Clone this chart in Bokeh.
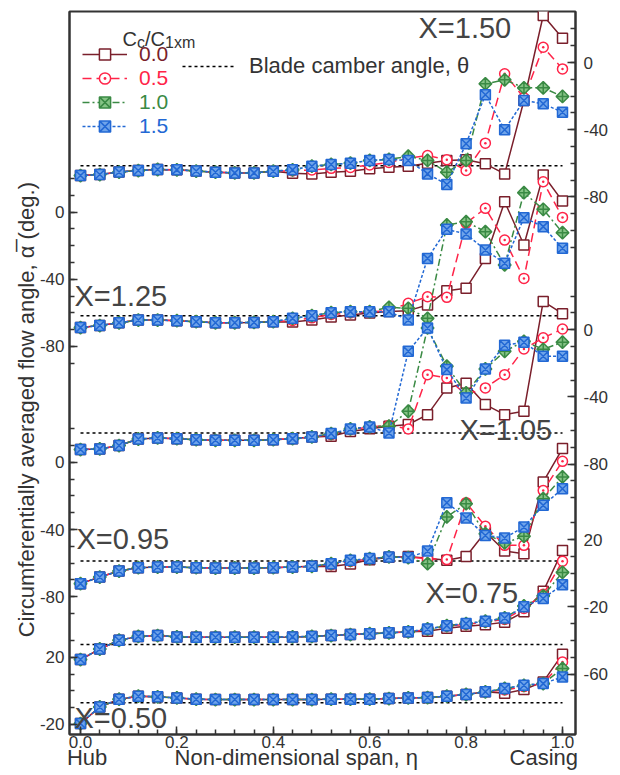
import math
from bokeh.plotting import figure
from bokeh.models import (ColumnDataSource, Range1d, LinearAxis, FixedTicker,
                          Label, Legend, LegendItem, PrintfTickFormatter)
from bokeh.transform import dodge
from bokeh.embed import file_html
from bokeh.resources import INLINE

# ---------------- data ----------------
eta = [0.00, 0.04, 0.08, 0.12, 0.16, 0.20, 0.24, 0.28, 0.32, 0.36, 0.40, 0.44, 0.48,
       0.52, 0.56, 0.60, 0.64, 0.68, 0.72, 0.76, 0.80, 0.84, 0.88, 0.92, 0.96, 1.00]
ratio_labels = ["0.0", "0.5", "1.0", "1.5"]
station_labels = ["X=1.50", "X=1.25", "X=1.05", "X=0.95", "X=0.75", "X=0.50"]
camber = [-61.5, -61.7, -61.5, -58.7, -42.5, -7.1]
x_tick_values = [0.0, 0.2, 0.4, 0.6, 0.8, 1.0]

# X = 1.50
x150_r00 = [-67.3, -66.7, -65.2, -64.3, -63.7, -63.9, -64.6, -65.3, -65.7, -65.7, -64.7,
            -65.9, -66.3, -65.3, -64.7, -63.3, -62.3, -61.7, -60.0, -58.3, -57.9, -60.3, -66.3, -22.6, 28.0, 14.5]
x150_r05 = [-67.3, -66.7, -65.2, -64.3, -63.7, -63.9, -64.6, -65.3, -65.7, -65.7, -64.7,
            -64.5, -64.0, -63.0, -62.5, -61.0, -59.5, -57.0, -55.4, -57.9, -64.3, -48.0, -6.7, -21.0, 9.1, -3.8]
x150_r10 = [-67.3, -66.7, -65.2, -64.3, -63.7, -63.9, -64.6, -65.3, -65.7, -65.7, -64.7,
            -63.9, -61.7, -60.7, -59.9, -58.3, -57.7, -55.8, -58.3, -65.3, -58.3, -12.7, -10.3, -15.1, -15.1, -20.2]
x150_r15 = [-67.3, -66.7, -65.2, -64.3, -63.7, -63.9, -64.6, -65.3, -65.7, -65.7, -64.7,
            -63.9, -61.7, -60.7, -59.9, -58.3, -57.7, -58.3, -66.3, -72.6, -48.4, -19.2, -40.0, -22.6, -24.6, -29.6]

# X = 1.25
x125_r00 = [-68.8, -67.6, -65.9, -64.3, -64.3, -64.7, -65.3, -65.9, -65.9, -65.7, -65.3,
            -65.5, -64.3, -62.5, -61.3, -60.1, -59.2, -58.7, -55.4, -46.8, -45.4, -27.6, 6.1, -19.6, 22.0, 6.5]
x125_r05 = [-68.8, -67.6, -65.9, -64.3, -64.3, -64.7, -65.3, -65.9, -65.9, -65.7, -65.3,
            -64.5, -63.0, -61.0, -60.0, -59.5, -58.5, -54.3, -50.4, -50.8, -6.6, 2.2, -16.7, -39.5, 18.0, -3.2]
x125_r10 = [-68.8, -67.6, -65.9, -64.3, -64.3, -64.7, -65.3, -65.9, -65.9, -65.7, -65.3,
            -63.3, -61.7, -59.9, -59.3, -59.3, -56.7, -57.3, -63.3, -7.7, -5.8, -11.7, -31.5, 11.5, 1.6, -12.3]
x125_r15 = [-68.8, -67.6, -65.9, -64.3, -64.3, -64.7, -65.3, -65.9, -65.9, -65.7, -65.3,
            -63.3, -61.7, -59.9, -59.3, -59.3, -59.3, -64.3, -27.6, -10.3, -13.1, -22.6, -30.5, -3.4, -8.7, -21.6]

# X = 1.05
x105_r00 = [-71.4, -71.0, -69.0, -65.1, -64.5, -64.9, -65.5, -65.9, -65.9, -65.9, -65.5, -64.9, -63.9,
            -63.5, -60.7, -59.0, -57.5, -56.5, -50.6, -34.7, -31.9, -44.6, -50.6, -48.6, 16.8, 9.5]
x105_r05 = [-71.4, -71.0, -69.0, -65.1, -64.5, -64.9, -65.5, -65.9, -65.9, -65.9, -65.5, -64.9, -63.9,
            -62.5, -59.5, -58.0, -57.0, -59.1, -26.8, -28.8, -38.7, -34.7, -26.8, -11.5, -4.9, 0.4]
x105_r10 = [-71.4, -71.0, -69.0, -65.1, -64.5, -64.9, -65.5, -65.9, -65.9, -65.9, -65.5, -64.9, -63.9,
            -61.9, -59.1, -57.9, -57.5, -48.6, 1.0, -21.8, -37.7, -23.4, -12.9, -7.0, -11.7, -7.5]
x105_r15 = [-71.4, -71.0, -69.0, -65.1, -64.5, -64.9, -65.5, -65.9, -65.9, -65.9, -65.5, -64.9, -63.9,
            -61.9, -59.1, -57.9, -61.5, -12.9, 1.0, -23.8, -40.7, -23.4, -9.3, -7.5, -15.9, -15.9]

# X = 0.95
x095_r00 = [-72.2, -68.3, -64.7, -62.7, -62.3, -62.3, -62.7, -62.9, -62.9, -62.9, -62.7, -62.3, -61.9,
            -62.0, -60.5, -58.0, -56.5, -56.0, -57.1, -58.3, -56.0, -41.5, -52.8, -54.4, -11.7, 8.2]
x095_r05 = [-72.2, -68.3, -64.7, -62.7, -62.3, -62.3, -62.7, -62.9, -62.9, -62.9, -62.7, -62.3, -61.9,
            -61.0, -59.0, -57.5, -56.3, -56.3, -57.3, -57.9, -24.0, -38.1, -49.4, -49.4, -16.7, 0.6]
x095_r10 = [-72.2, -68.3, -64.7, -62.7, -62.3, -62.3, -62.7, -62.9, -62.9, -62.9, -62.7, -62.3, -61.9,
            -60.3, -58.3, -57.3, -56.3, -56.7, -60.3, -32.5, -24.6, -42.5, -48.0, -44.0, -21.6, -8.7]
x095_r15 = [-72.2, -68.3, -64.7, -62.7, -62.3, -62.3, -62.7, -62.9, -62.9, -62.9, -62.7, -62.3, -61.9,
            -60.3, -58.3, -57.3, -56.3, -56.7, -52.8, -24.0, -33.1, -43.5, -45.0, -38.5, -25.6, -15.7]

# X = 0.75
x075_r00 = [-51.4, -45.1, -39.9, -37.6, -37.1, -37.9, -38.1, -38.1, -38.1, -38.1, -38.1, -37.9, -37.6,
            -37.1, -36.5, -36.0, -35.5, -34.9, -34.5, -32.7, -31.6, -30.6, -29.2, -23.0, -10.8, 13.5]
x075_r05 = [-51.4, -45.1, -39.9, -37.6, -37.1, -37.9, -38.1, -38.1, -38.1, -38.1, -38.1, -37.9, -37.6,
            -37.1, -36.5, -36.0, -35.5, -34.9, -33.5, -31.5, -30.5, -29.0, -27.5, -21.0, -12.5, 7.1]
x075_r10 = [-51.4, -45.1, -39.9, -37.6, -37.1, -37.9, -38.1, -38.1, -38.1, -38.1, -38.1, -37.9, -37.6,
            -37.1, -36.5, -36.0, -35.5, -34.9, -33.2, -31.2, -30.0, -28.6, -26.6, -19.5, -13.5, 0.5]
x075_r15 = [-51.4, -45.1, -39.9, -37.6, -37.1, -37.9, -38.1, -38.1, -38.1, -38.1, -38.1, -37.9, -37.6,
            -37.1, -36.5, -36.0, -35.5, -34.9, -33.2, -31.2, -30.0, -28.6, -26.6, -20.0, -15.0, -6.8]

# X = 0.50
x050_r00 = [-19.5, -9.6, -5.0, -3.2, -3.6, -4.2, -5.0, -5.2, -5.2, -5.2, -5.2, -5.2, -5.2,
            -5.0, -5.0, -5.0, -4.6, -4.2, -4.0, -3.2, -2.2, -0.6, -1.5, 0.8, 5.3, 21.8]
x050_r05 = [-19.5, -9.6, -5.0, -3.2, -3.6, -4.2, -5.0, -5.2, -5.2, -5.2, -5.2, -5.2, -5.2,
            -5.0, -5.0, -5.0, -4.6, -4.2, -4.0, -3.2, -2.2, -0.6, 0.5, 2.5, 4.5, 17.2]
x050_r10 = [-19.5, -9.6, -5.0, -3.2, -3.6, -4.2, -5.0, -5.2, -5.2, -5.2, -5.2, -5.2, -5.2,
            -5.0, -5.0, -5.0, -4.6, -4.2, -4.0, -3.2, -2.2, -0.6, 1.4, 3.3, 4.3, 13.3]
x050_r15 = [-19.5, -9.6, -5.0, -3.2, -3.6, -4.2, -5.0, -5.2, -5.2, -5.2, -5.2, -5.2, -5.2,
            -5.0, -5.0, -5.0, -4.6, -4.2, -4.0, -3.2, -2.2, -0.6, 1.4, 3.3, 4.3, 8.3]

series_by_station = [
    [x150_r00, x150_r05, x150_r10, x150_r15],
    [x125_r00, x125_r05, x125_r10, x125_r15],
    [x105_r00, x105_r05, x105_r10, x105_r15],
    [x095_r00, x095_r05, x095_r10, x095_r15],
    [x075_r00, x075_r05, x075_r10, x075_r15],
    [x050_r00, x050_r05, x050_r10, x050_r15],
]

# ---------------- layout (pixel geometry) ----------------
W, H = 620, 775
FR_L, FR_R, FR_T, FR_B = 69, 575, 11, 734
ETA0_PX, ETA1_PX = 80, 562
PX_PER_DEG = 1.68

def ex(px):
    return (px - ETA0_PX) / (ETA1_PX - ETA0_PX)

def wy(py):
    return (FR_B - py) / PX_PER_DEG

# plot-unit position of each station's zero degree, and side of its scale
zero_pos = [400, 311, 241, 162, 96, 26]
axis_side = ["right", "left", "right", "left", "right", "left"]
label_vals = [[0, -40, -80], [0, -40, -80], [0, -40, -80], [0, -40, -80], [20, -20, -60], [20, -20]]
minor_span = [(20, -110), (20, -90), (20, -100), (20, -90), (30, -70), (30, -20)]

FONT = "Liberation Sans"
TXT = "#333333"
NB = "\u00a0"

styles = [
    dict(color="#7a1f2b", dash="solid", marker="square", size=10, fill="white", angle=0.0),
    dict(color="#ff2448", dash="9 5", marker="circle_dot", size=10, fill="white", angle=0.0),
    dict(color="#3a8a44", dash="7 3 2 3", marker="square_x", size=9, fill="#86c486", angle=math.pi / 4),
    dict(color="#2268d4", dash="3 2", marker="square_x", size=10, fill="#6fa4ea", angle=0.0),
]

p = figure(width=W, height=H, output_backend="svg", toolbar_location=None,
           x_range=Range1d(ex(FR_L), ex(FR_R)), y_range=Range1d(0, wy(FR_T)),
           min_border_left=FR_L, min_border_right=W - FR_R,
           min_border_top=FR_T, min_border_bottom=H - FR_B,
           background_fill_color="white", border_fill_color="white")
p.xgrid.visible = False
p.ygrid.visible = False
p.outline_line_color = TXT
p.outline_line_width = 2


def style_axis(ax):
    ax.axis_line_color = TXT
    ax.axis_line_width = 2
    ax.major_tick_line_color = TXT
    ax.major_tick_line_width = 1.5
    ax.minor_tick_line_color = TXT
    ax.minor_tick_line_width = 1.5
    ax.major_tick_in = 8
    ax.major_tick_out = 0
    ax.minor_tick_in = 5
    ax.minor_tick_out = 0
    ax.major_label_text_font = FONT
    ax.major_label_text_font_size = "17px"
    ax.major_label_text_color = TXT
    ax.axis_label_text_font = FONT
    ax.axis_label_text_font_style = "normal"
    ax.axis_label_text_color = TXT


# bottom axis
xa = p.xaxis[0]
xa.ticker = FixedTicker(ticks=x_tick_values, minor_ticks=eta)
xa.formatter = PrintfTickFormatter(format="%.1f")
style_axis(xa)
xa.major_label_standoff = 1
xa.axis_label = "Hub" + NB * 11 + "Non-dimensional span, \u03b7" + NB * 15 + "Casing"
xa.axis_label_text_font_size = "22px"
xa.axis_label_standoff = -6

# left / right stacked scales
ticks = {"left": [], "right": []}
minors = {"left": [], "right": []}
overrides = {"left": {}, "right": {}}
for k in range(6):
    side = axis_side[k]
    z = zero_pos[k]
    for v in label_vals[k]:
        ticks[side].append(z + v)
        overrides[side][z + v] = str(v)
    hi, lo = minor_span[k]
    v = hi
    while v >= lo:
        minors[side].append(z + v)
        v -= 10

ya = p.yaxis[0]
ya.ticker = FixedTicker(ticks=ticks["left"], minor_ticks=minors["left"])
ya.major_label_overrides = overrides["left"]
style_axis(ya)
ya.major_label_standoff = 5
ya.axis_label = "Circumferentially averaged flow angle, \u03b1\u0305 (deg.)" + NB * 12
ya.axis_label_text_font_size = "22px"
ya.axis_label_standoff = -2

yr = LinearAxis(ticker=FixedTicker(ticks=ticks["right"], minor_ticks=minors["right"]),
                major_label_overrides=overrides["right"])
style_axis(yr)
yr.major_label_standoff = 8
p.add_layout(yr, "right")

# ---------------- curves ----------------
legend_renderers = None
camber_renderer = None
for k in range(6):
    src = ColumnDataSource(dict(eta=eta,
                                r00=series_by_station[k][0], r05=series_by_station[k][1],
                                r10=series_by_station[k][2], r15=series_by_station[k][3]))
    csrc = ColumnDataSource(dict(eta=[eta[0], eta[-1]], cam=[camber[k], camber[k]]))
    cr = p.line("eta", dodge("cam", zero_pos[k]), source=csrc, line_color="black",
                line_width=1.5, line_dash="3 3")
    if camber_renderer is None:
        camber_renderer = cr
    rends = []
    for key, st in zip(["r00", "r05", "r10", "r15"], styles):
        lr = p.line("eta", dodge(key, zero_pos[k]), source=src, line_color=st["color"],
                    line_width=1.5, line_dash=st["dash"])
        mr = p.scatter("eta", dodge(key, zero_pos[k]), source=src, marker=st["marker"],
                       size=st["size"], angle=st["angle"], line_color=st["color"],
                       line_width=1.5, fill_color=st["fill"])
        rends.append((lr, mr))
    if legend_renderers is None:
        legend_renderers = rends

# ---------------- station labels ----------------
station_pos = [(418, 27), (74, 295), (459, 429), (76, 538), (425, 592), (74, 717)]
for txt, (xp, yp) in zip(station_labels, station_pos):
    p.add_layout(Label(x=ex(xp), y=wy(yp), text=txt, text_font=FONT, text_font_size="29px",
                       text_color="#444444", text_align="left", text_baseline="middle"))

# ---------------- legend ----------------
def add_legend(rs, label, color, x_px, yc_px, glyph_w, standoff, fs):
    lg = Legend(items=[LegendItem(label=label, renderers=list(rs))],
                location=(x_px - FR_L, FR_B - yc_px - 14),
                glyph_width=glyph_w, glyph_height=28, label_height=28,
                label_standoff=standoff, padding=0, margin=0, spacing=0,
                label_text_font=FONT, label_text_font_size=fs,
                label_text_color=color, background_fill_alpha=0, border_line_alpha=0)
    p.add_layout(lg)

leg_y = [54, 78, 102, 126]
for (lr, mr), lab, st, yc in zip(legend_renderers, ratio_labels, styles, leg_y):
    add_legend([lr, mr], lab, st["color"], 82, yc, 45, 12, "21px")
add_legend([camber_renderer], "Blade camber angle, \u03b8", TXT, 182, 66, 54, 13, "22px")

# legend title C_c / C_1xm
for txt, xp, yp, fs in [("C", 122, 38, "20px"), ("c", 136.5, 42, "16px"),
                        ("/C", 144.5, 38, "20px"), ("1xm", 164.5, 42, "16px")]:
    p.add_layout(Label(x=ex(xp), y=wy(yp), text=txt, text_font=FONT, text_font_size=fs,
                       text_color=TXT, text_align="left", text_baseline="alphabetic"))

open("out.html", "w").write(file_html(p, INLINE))
